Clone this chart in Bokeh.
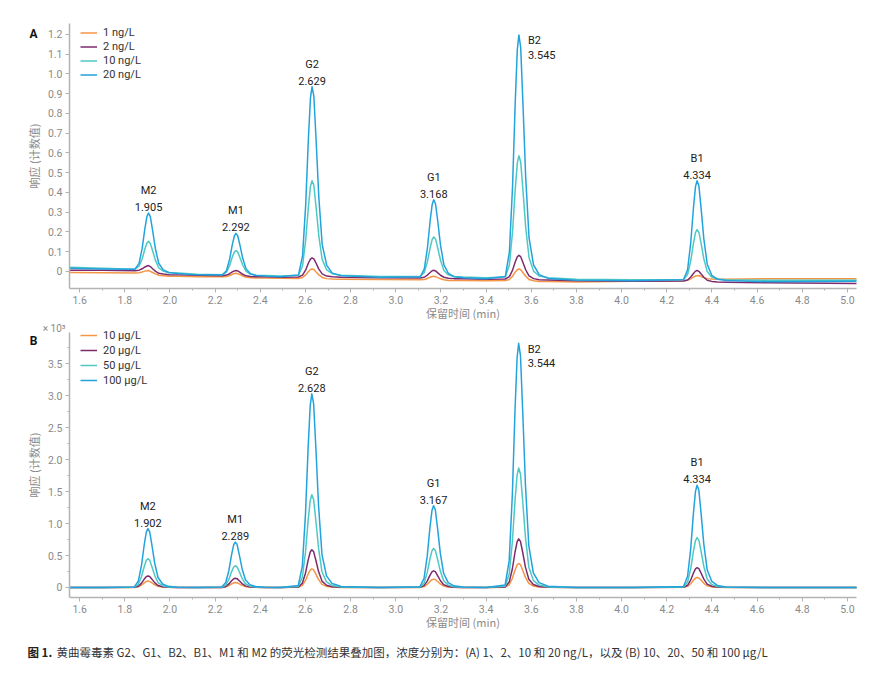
import math
from bokeh.plotting import figure
from bokeh.layouts import column
from bokeh.models import (Label, Legend, LegendItem, SingleIntervalTicker,
                          CustomJSTickFormatter, Range1d, LinearAxis)
from bokeh.embed import file_html
from bokeh.resources import INLINE

# ---------------- data ----------------
peak_names = ["M2", "M1", "G2", "G1", "B2", "B1"]
peak_rt_a = [1.905, 2.292, 2.629, 3.168, 3.545, 4.334]
peak_rt_b = [1.902, 2.289, 2.628, 3.167, 3.544, 4.334]

legend_a = ["1 ng/L", "2 ng/L", "10 ng/L", "20 ng/L"]
legend_b = ["10 µg/L", "20 µg/L", "50 µg/L", "100 µg/L"]

time_a = [1.555, 1.700,
          1.845, 1.863, 1.877, 1.889, 1.898, 1.905, 1.913, 1.923, 1.935, 1.950, 1.970, 1.995, 2.035,
          2.120,
          2.232, 2.250, 2.264, 2.276, 2.285, 2.292, 2.300, 2.310, 2.322, 2.337, 2.357, 2.382, 2.422,
          2.490,
          2.569, 2.587, 2.601, 2.613, 2.622, 2.629, 2.637, 2.647, 2.659, 2.674, 2.694, 2.719, 2.759,
          2.930,
          3.108, 3.126, 3.140, 3.152, 3.161, 3.168, 3.176, 3.186, 3.198, 3.213, 3.233, 3.258, 3.298,
          3.400,
          3.485, 3.503, 3.517, 3.529, 3.538, 3.545, 3.553, 3.563, 3.575, 3.590, 3.610, 3.635, 3.675,
          3.800, 4.050,
          4.274, 4.292, 4.306, 4.318, 4.327, 4.334, 4.342, 4.352, 4.364, 4.379, 4.399, 4.424, 4.464,
          4.650, 5.040]

resp_a_1 = [-0.006, -0.007,
            -0.008, -0.007, -0.003, 0.001, 0.003, 0.004, 0.000, -0.006, -0.013, -0.020, -0.022, -0.025, -0.025,
            -0.027,
            -0.028, -0.026, -0.021, -0.015, -0.011, -0.010, -0.012, -0.017, -0.024, -0.030, -0.032, -0.034, -0.034,
            -0.035,
            -0.036, -0.031, -0.018, -0.001, 0.009, 0.012, 0.009, -0.003, -0.018, -0.031, -0.037, -0.039, -0.040,
            -0.042,
            -0.043, -0.041, -0.036, -0.030, -0.026, -0.025, -0.027, -0.032, -0.038, -0.043, -0.046, -0.047, -0.047,
            -0.048,
            -0.047, -0.041, -0.025, -0.004, 0.008, 0.012, 0.008, -0.007, -0.025, -0.041, -0.048, -0.051, -0.052,
            -0.054, -0.050,
            -0.048, -0.045, -0.038, -0.029, -0.024, -0.022, -0.021, -0.026, -0.032, -0.037, -0.039, -0.040, -0.040,
            -0.037, -0.037]

resp_a_2 = [0.006, 0.005,
            0.003, 0.006, 0.013, 0.022, 0.027, 0.029, 0.024, 0.013, 0.001, -0.010, -0.014, -0.017, -0.018,
            -0.020,
            -0.022, -0.019, -0.012, -0.003, 0.002, 0.004, 0.002, -0.005, -0.015, -0.023, -0.026, -0.027, -0.028,
            -0.030,
            -0.029, -0.019, 0.007, 0.042, 0.062, 0.068, 0.063, 0.041, 0.011, -0.013, -0.024, -0.028, -0.030,
            -0.032,
            -0.034, -0.030, -0.019, -0.006, 0.003, 0.005, 0.002, -0.008, -0.020, -0.030, -0.035, -0.037, -0.038,
            -0.040,
            -0.039, -0.027, 0.006, 0.048, 0.074, 0.081, 0.074, 0.045, 0.008, -0.023, -0.037, -0.043, -0.044,
            -0.048, -0.050,
            -0.049, -0.044, -0.029, -0.011, 0.001, 0.004, 0.000, -0.013, -0.030, -0.045, -0.051, -0.054, -0.055,
            -0.058, -0.062]

resp_a_10 = [0.020, 0.015,
             0.011, 0.026, 0.064, 0.114, 0.143, 0.152, 0.141, 0.104, 0.058, 0.018, 0.001, -0.007, -0.009,
             -0.015,
             -0.017, -0.004, 0.029, 0.072, 0.098, 0.105, 0.098, 0.069, 0.032, 0.000, -0.015, -0.020, -0.021,
             -0.024,
             -0.020, 0.028, 0.159, 0.328, 0.430, 0.459, 0.436, 0.324, 0.180, 0.059, 0.007, -0.012, -0.020,
             -0.026,
             -0.026, -0.006, 0.049, 0.119, 0.162, 0.174, 0.164, 0.116, 0.056, 0.004, -0.018, -0.026, -0.029,
             -0.033,
             -0.029, 0.033, 0.201, 0.418, 0.548, 0.585, 0.554, 0.411, 0.224, 0.069, 0.001, -0.024, -0.033,
             -0.040, -0.043,
             -0.041, -0.016, 0.053, 0.142, 0.196, 0.211, 0.198, 0.140, 0.063, -0.001, -0.029, -0.039, -0.043,
             -0.045, -0.045]

resp_a_20 = [0.016, 0.012,
             0.011, 0.040, 0.117, 0.218, 0.278, 0.295, 0.277, 0.207, 0.117, 0.041, 0.007, -0.006, -0.011,
             -0.018,
             -0.018, 0.003, 0.061, 0.135, 0.179, 0.192, 0.180, 0.131, 0.066, 0.012, -0.012, -0.021, -0.024,
             -0.027,
             -0.018, 0.078, 0.338, 0.675, 0.877, 0.935, 0.887, 0.665, 0.376, 0.136, 0.030, -0.009, -0.023,
             -0.030,
             -0.028, 0.011, 0.118, 0.256, 0.338, 0.362, 0.341, 0.251, 0.131, 0.033, -0.011, -0.027, -0.033,
             -0.038,
             -0.026, 0.098, 0.431, 0.864, 1.123, 1.197, 1.134, 0.849, 0.479, 0.169, 0.032, -0.017, -0.036,
             -0.045, -0.048,
             -0.043, 0.008, 0.145, 0.322, 0.429, 0.459, 0.434, 0.316, 0.164, 0.036, -0.020, -0.040, -0.047,
             -0.053, -0.050]

time_b = [1.555, 1.700,
          1.842, 1.860, 1.874, 1.886, 1.895, 1.902, 1.910, 1.920, 1.932, 1.947, 1.967, 1.992, 2.032,
          2.120,
          2.229, 2.247, 2.261, 2.273, 2.282, 2.289, 2.297, 2.307, 2.319, 2.334, 2.354, 2.379, 2.419,
          2.490,
          2.568, 2.586, 2.600, 2.612, 2.621, 2.628, 2.636, 2.646, 2.658, 2.673, 2.693, 2.718, 2.758,
          2.930,
          3.107, 3.125, 3.139, 3.151, 3.160, 3.167, 3.175, 3.185, 3.197, 3.212, 3.232, 3.257, 3.297,
          3.400,
          3.484, 3.502, 3.516, 3.528, 3.537, 3.544, 3.552, 3.562, 3.574, 3.589, 3.609, 3.634, 3.674,
          3.800, 4.050,
          4.274, 4.292, 4.306, 4.318, 4.327, 4.334, 4.342, 4.352, 4.364, 4.379, 4.399, 4.424, 4.464,
          4.650, 5.040]

resp_b_10 = [0, 0,
             0.001, 0.011, 0.038, 0.073, 0.094, 0.100, 0.095, 0.072, 0.042, 0.017, 0.006, 0.002, 0.001,
             0,
             0.001, 0.009, 0.030, 0.057, 0.073, 0.078, 0.074, 0.056, 0.033, 0.013, 0.005, 0.002, 0.000,
             0,
             0.003, 0.032, 0.110, 0.212, 0.273, 0.290, 0.276, 0.209, 0.122, 0.049, 0.017, 0.006, 0.001,
             0,
             0.001, 0.014, 0.049, 0.095, 0.122, 0.130, 0.124, 0.094, 0.055, 0.022, 0.008, 0.003, 0.001,
             0,
             0.004, 0.041, 0.143, 0.274, 0.353, 0.375, 0.356, 0.270, 0.158, 0.064, 0.023, 0.008, 0.002,
             0, 0,
             0.002, 0.017, 0.059, 0.113, 0.146, 0.155, 0.147, 0.112, 0.065, 0.026, 0.009, 0.003, 0.001,
             0, 0]

resp_b_20 = [0, 0,
             0.002, 0.020, 0.068, 0.131, 0.169, 0.180, 0.171, 0.130, 0.076, 0.031, 0.011, 0.004, 0.001,
             0,
             0.001, 0.016, 0.055, 0.106, 0.136, 0.145, 0.138, 0.104, 0.061, 0.025, 0.009, 0.003, 0.001,
             0,
             0.006, 0.065, 0.224, 0.431, 0.555, 0.590, 0.561, 0.425, 0.248, 0.100, 0.035, 0.012, 0.003,
             0,
             0.003, 0.029, 0.099, 0.190, 0.244, 0.260, 0.247, 0.187, 0.109, 0.044, 0.016, 0.005, 0.001,
             0,
             0.008, 0.084, 0.289, 0.555, 0.714, 0.760, 0.722, 0.547, 0.319, 0.129, 0.046, 0.015, 0.004,
             0, 0,
             0.003, 0.034, 0.118, 0.226, 0.291, 0.310, 0.295, 0.223, 0.130, 0.053, 0.019, 0.006, 0.002,
             0, 0]

resp_b_50 = [0, 0,
             0.005, 0.050, 0.171, 0.329, 0.423, 0.450, 0.428, 0.324, 0.189, 0.077, 0.027, 0.009, 0.002,
             0,
             0.003, 0.037, 0.129, 0.248, 0.320, 0.340, 0.323, 0.245, 0.143, 0.058, 0.020, 0.007, 0.002,
             0,
             0.015, 0.160, 0.551, 1.059, 1.363, 1.450, 1.378, 1.044, 0.609, 0.247, 0.087, 0.029, 0.007,
             0,
             0.006, 0.067, 0.232, 0.445, 0.573, 0.610, 0.580, 0.439, 0.256, 0.104, 0.037, 0.012, 0.003,
             0,
             0.019, 0.206, 0.711, 1.365, 1.758, 1.870, 1.777, 1.346, 0.785, 0.318, 0.112, 0.037, 0.009,
             0, 0,
             0.008, 0.086, 0.296, 0.569, 0.733, 0.780, 0.741, 0.562, 0.328, 0.133, 0.047, 0.016, 0.004,
             0, 0]

resp_b_100 = [0, 0,
              0.009, 0.101, 0.350, 0.672, 0.865, 0.920, 0.874, 0.662, 0.386, 0.156, 0.055, 0.018, 0.005,
              0,
              0.007, 0.078, 0.270, 0.518, 0.667, 0.710, 0.675, 0.511, 0.298, 0.121, 0.043, 0.014, 0.004,
              0,
              0.030, 0.333, 1.151, 2.212, 2.848, 3.030, 2.879, 2.182, 1.273, 0.515, 0.182, 0.061, 0.015,
              0,
              0.013, 0.141, 0.486, 0.934, 1.203, 1.280, 1.216, 0.922, 0.538, 0.218, 0.077, 0.026, 0.006,
              0,
              0.038, 0.420, 1.452, 2.789, 3.591, 3.820, 3.629, 2.750, 1.604, 0.649, 0.229, 0.076, 0.019,
              0, 0,
              0.016, 0.176, 0.608, 1.168, 1.504, 1.600, 1.520, 1.152, 0.672, 0.272, 0.096, 0.032, 0.008,
              0, 0]

x_title = "保留时间 (min)"
y_title = "响应 (计数值)"
caption_bold = "图 1."
caption_text = ("黄曲霉毒素 G2、G1、B2、B1、M1 和 M2 的荧光检测结果叠加图，浓度分别为：(A) 1、2、10 和 20 ng/L，"
                "以及 (B) 10、20、50 和 100 µg/L")

# ---------------- style / layout ----------------
COLORS = ["#F39645", "#7E2B6E", "#4DC8C3", "#23A3DD"]
AXIS_GREY = "#b3b3b3"
TEXT_GREY = "#8a8a8a"
LATIN = "Roboto"
CJK = "Noto Sans CJK SC"
W = 881
FRAME_L, FRAME_R = 69, 856          # pixel columns of the plotting area
FRAME_H = 265
X_LO, X_HI = 1.555, 5.04
SIDE_LABEL = "B2"


def apex(times, resp, rt):
    return max(r for t, r in zip(times, resp) if abs(t - rt) < 0.02)


def make_panel(times, series, labels, rts, tag, y_lo, y_hi, y_interval, y_minor,
               height, frame_top, legend_top, row_h, tag_y, exp_label=False):
    frame_bottom = frame_top + FRAME_H
    xs = (X_HI - X_LO) / (FRAME_R - FRAME_L)
    ys = (y_hi - y_lo) / FRAME_H
    x_start = X_LO - FRAME_L * xs
    x_end = X_HI + (W - FRAME_R) * xs
    y_top = y_hi + frame_top * ys
    y_bottom = y_lo - (height - frame_bottom) * ys

    def px(c):
        return x_start + c * xs

    def py(r):
        return y_top - r * ys

    p = figure(width=W, height=height,
               x_range=Range1d(x_start, x_end), y_range=Range1d(y_bottom, y_top),
               x_axis_type=None, y_axis_type=None, min_border=0,
               output_backend="svg", toolbar_location=None)
    p.outline_line_color = None
    p.background_fill_color = "white"
    p.border_fill_color = "white"

    fmt = CustomJSTickFormatter(code="return Math.abs(tick) < 1e-9 ? '0' : tick.toFixed(1);")
    xaxis = LinearAxis(fixed_location=y_lo, bounds=(X_LO, X_HI),
                       ticker=SingleIntervalTicker(interval=0.2, num_minor_ticks=2))
    yaxis = LinearAxis(fixed_location=X_LO, bounds=(y_lo, y_hi),
                       ticker=SingleIntervalTicker(interval=y_interval, num_minor_ticks=y_minor))
    for ax in (xaxis, yaxis):
        ax.formatter = fmt
        ax.axis_line_color = AXIS_GREY
        ax.axis_line_width = 1.5
        ax.major_tick_line_color = AXIS_GREY
        ax.minor_tick_line_color = AXIS_GREY
        ax.major_tick_out = 4
        ax.major_tick_in = 0
        ax.minor_tick_out = 2
        ax.minor_tick_in = 0
        ax.major_label_text_font = LATIN
        ax.major_label_text_font_size = "10.5px"
        ax.major_label_text_color = TEXT_GREY
        ax.major_label_standoff = 3
    p.add_layout(xaxis, "below")
    p.add_layout(yaxis, "left")

    # axis titles
    p.add_layout(Label(x=(X_LO + X_HI) / 2, y=py(frame_bottom + 24), text=x_title,
                       text_align="center", text_baseline="middle", text_font=CJK,
                       text_font_size="11px", text_color=TEXT_GREY))
    p.add_layout(Label(x=px(33), y=(y_lo + y_hi) / 2, text=y_title, angle=math.pi / 2,
                       text_align="center", text_baseline="middle", text_font=CJK,
                       text_font_size="11px", text_color=TEXT_GREY))

    items = []
    for resp, lab, col in zip(series, labels, COLORS):
        r = p.line(times, resp, line_color=col, line_width=1.5, line_join="round")
        items.append(LegendItem(label=lab, renderers=[r]))

    n = len(items)
    legend_h = n * (row_h - 1) + (n - 1) * 1
    legend = Legend(items=items, location=(80, height - legend_top - legend_h),
                    orientation="vertical", padding=0, margin=0, spacing=1,
                    label_height=row_h - 1, glyph_height=row_h - 1, glyph_width=17,
                    label_standoff=6,
                    label_text_font=LATIN, label_text_font_size="11px",
                    label_text_color="#333333",
                    border_line_color=None, background_fill_alpha=0)
    p.add_layout(legend)

    top_trace = series[-1]
    for name, rt in zip(peak_names, rts):
        y = apex(times, top_trace, rt)
        if name == SIDE_LABEL:
            p.add_layout(Label(x=rt, y=y, text=name, text_align="left", text_baseline="middle",
                               x_offset=9, y_offset=-6, text_font=LATIN, text_font_size="11px",
                               text_color="#222222"))
            p.add_layout(Label(x=rt, y=y, text=f"{rt:.3f}", text_align="left", text_baseline="middle",
                               x_offset=9, y_offset=-20, text_font=LATIN, text_font_size="11px",
                               text_color="#222222"))
        else:
            p.add_layout(Label(x=rt, y=y, text=name, text_align="center", text_baseline="bottom",
                               y_offset=16, text_font=LATIN, text_font_size="11px",
                               text_color="#222222"))
            p.add_layout(Label(x=rt, y=y, text=f"{rt:.3f}", text_align="center", text_baseline="bottom",
                               y_offset=2, text_font=LATIN, text_font_size="11px",
                               text_color="#222222"))

    # panel tag
    p.add_layout(Label(x=px(33), y=py(tag_y), text=tag, text_align="center",
                       text_baseline="middle", text_font=LATIN, text_font_size="12px",
                       text_font_style="bold", text_color="#111111"))
    if exp_label:
        p.add_layout(Label(x=px(65), y=py(frame_top - 4), text="× 10³", text_align="right",
                           text_baseline="middle", text_font=LATIN, text_font_size="10px",
                           text_color=TEXT_GREY))
    return p, px, py


HA = 320
pA, _, _ = make_panel(time_a, [resp_a_1, resp_a_2, resp_a_10, resp_a_20], legend_a, peak_rt_a, "A",
                      -0.087, 1.255, 0.1, 0, height=HA, frame_top=23, legend_top=26,
                      row_h=14, tag_y=33)
pB, pxB, pyB = make_panel(time_b, [resp_b_10, resp_b_20, resp_b_50, resp_b_100], legend_b, peak_rt_b,
                          "B", -0.157, 3.99, 0.5, 2, height=699 - HA, frame_top=332 - HA,
                          legend_top=328 - HA, row_h=15, tag_y=340 - HA, exp_label=True)

cap_y = 651 - HA
pB.add_layout(Label(x=pxB(27), y=pyB(cap_y), text=caption_bold, text_align="left",
                    text_baseline="middle", text_font=CJK, text_font_size="11.5px",
                    text_font_style="bold", text_color="#222222"))
pB.add_layout(Label(x=pxB(56), y=pyB(cap_y), text=caption_text, text_align="left",
                    text_baseline="middle", text_font=CJK, text_font_size="11.5px",
                    text_color="#333333"))

layout = column(pA, pB, spacing=0)
open("out.html", "w").write(file_html(layout, INLINE))
